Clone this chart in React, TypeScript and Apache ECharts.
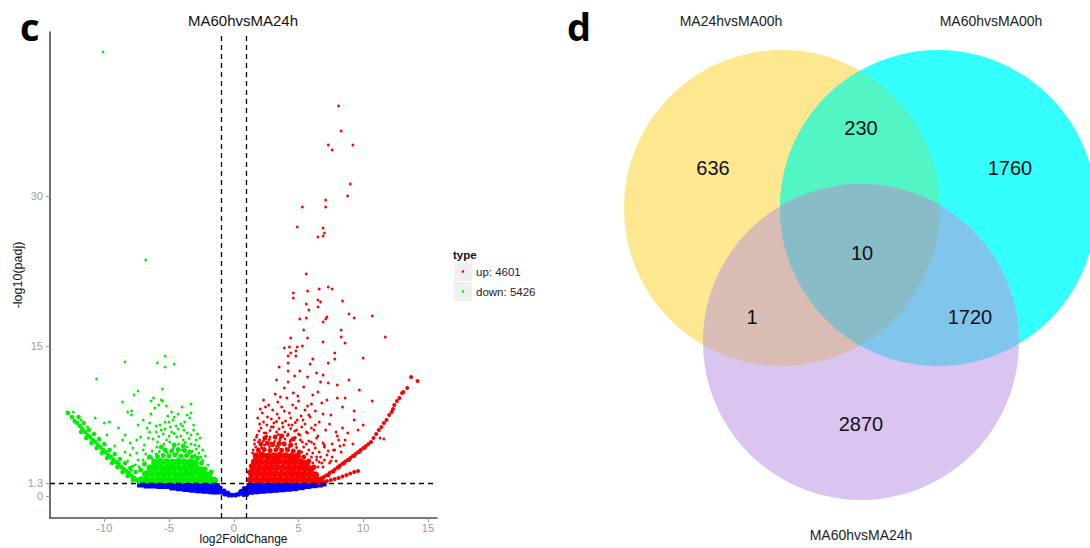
import React, { useEffect, useRef } from "react";
import * as echarts from "echarts";

// ---------- Volcano plot data (log2FoldChange, -log10(padj)) ----------
const xTickValues = [-10, -5, 0, 5, 10, 15];
const yTickValues = [0, 1.3, 15, 30];
const foldCutoffs = [-1, 1];
const padjCutoff = 1.3;
const legendTitle = "type";
const legendLabels = ["up: 4601", "down: 5426"];
const plotTitle = "MA60hvsMA24h";

// not significant (dense blue band below the cutoff)
const notSigBand: number[][] = [
  [-7.2, 1.15], [-6.7, 1.05], [-6.2, 1.05], [-5.7, 1.0], [-5.2, 1.0],
  [-4.7, 1.0], [-4.7, 0.85], [-4.2, 1.0], [-4.2, 0.78], [-3.7, 1.0], [-3.7, 0.7],
  [-3.2, 1.0], [-3.2, 0.63], [-2.7, 1.0], [-2.7, 0.57], [-2.2, 1.0], [-2.2, 0.52],
  [-1.7, 1.0], [-1.7, 0.47], [-1.35, 0.98], [-1.35, 0.45],
  [1.25, 1.0], [1.25, 0.42], [1.7, 1.0], [1.7, 0.47], [2.2, 1.0], [2.2, 0.52],
  [2.7, 1.0], [2.7, 0.57], [3.2, 1.0], [3.2, 0.62], [3.7, 1.0], [3.7, 0.67],
  [4.2, 1.0], [4.2, 0.72], [4.7, 1.0], [4.7, 0.78], [5.2, 1.0], [5.2, 0.88],
  [5.7, 1.0], [6.2, 1.08], [6.6, 1.15], [6.9, 1.25],
];
const notSigNotch: number[][] = [
  [-1.05, 0.8], [-1.0, 0.4], [-0.75, 0.5], [-0.7, 0.2], [-0.45, 0.28], [-0.4, 0.1],
  [-0.15, 0.08], [0.15, 0.1], [0.4, 0.2], [0.55, 0.45], [0.75, 0.15], [0.8, 0.75],
  [0.85, 0.4], [1.0, 0.15],
];

// down-regulated
const downCore: number[][] = [
  [-7.15, 1.6], [-6.7, 1.62], [-6.25, 1.58], [-5.8, 1.6], [-5.35, 1.63], [-4.9, 1.6], [-4.45, 1.57],
  [-4.0, 1.6], [-3.55, 1.62], [-3.1, 1.6], [-2.65, 1.58], [-2.2, 1.6], [-1.8, 1.6], [-1.5, 1.55],
  [-6.8, 2.2], [-6.35, 2.25], [-5.9, 2.18], [-5.45, 2.2], [-5.0, 2.24], [-4.55, 2.2], [-4.1, 2.17],
  [-3.65, 2.22], [-3.2, 2.2], [-2.75, 2.2], [-2.3, 2.15], [-1.95, 2.05],
  [-6.45, 2.8], [-6.0, 2.84], [-5.55, 2.78], [-5.1, 2.8], [-4.65, 2.83], [-4.2, 2.8], [-3.75, 2.77],
  [-3.3, 2.82], [-2.9, 2.75], [-2.5, 2.6],
  [-6.1, 3.35], [-5.65, 3.42], [-5.2, 3.4], [-4.75, 3.38], [-4.3, 3.43], [-3.85, 3.4], [-3.4, 3.36], [-3.0, 3.3],
];
const downCoreTop: number[][] = [
  [-5.9, 3.95], [-5.45, 4.05], [-5.0, 3.98], [-4.55, 4.1], [-4.1, 4.0], [-3.65, 4.05], [-3.2, 3.9],
  [-2.8, 3.8], [-5.3, 4.6], [-4.8, 4.5], [-4.3, 4.65], [-3.8, 4.55], [-3.4, 4.4], [-6.5, 3.9],
  [-6.9, 3.2], [-7.2, 2.6], [-4.6, 5.1], [-3.9, 5.0], [-5.6, 4.9], [-2.5, 3.3], [-2.2, 2.7], [-1.75, 2.4],
];
const downArm: number[][] = [
  [-12.8, 8.3], [-12.5, 7.9], [-12.3, 7.5], [-12.1, 7.3], [-11.9, 7.0], [-11.7, 6.7], [-11.5, 6.4],
  [-11.3, 6.1], [-11.1, 5.9], [-10.9, 5.6], [-10.7, 5.4], [-10.5, 5.1], [-10.3, 4.9], [-10.1, 4.6],
  [-9.9, 4.4], [-9.7, 4.1], [-9.5, 3.9], [-9.3, 3.6], [-9.1, 3.4], [-8.9, 3.2], [-8.7, 2.9],
  [-8.5, 2.7], [-8.3, 2.5], [-8.1, 2.3], [-7.9, 2.0], [-7.7, 1.8], [-7.5, 1.6], [-7.3, 1.4],
  [-11.8, 6.4], [-11.4, 5.8], [-11.0, 5.3], [-10.6, 4.8], [-10.2, 4.3], [-9.8, 3.8], [-9.4, 3.3],
  [-9.0, 2.9], [-8.6, 2.4], [-8.2, 2.0], [-7.8, 1.6],
  [-12.0, 7.9], [-11.6, 7.3], [-11.2, 6.6], [-10.8, 6.2], [-10.4, 5.7], [-10.0, 5.2], [-9.6, 4.6],
  [-9.2, 4.2], [-8.8, 3.7], [-8.4, 3.3], [-8.0, 2.8], [-7.6, 2.4],
];
const downScatter: number[][] = [
  [-10.1, 44.4], [-6.8, 23.6], [-8.4, 13.4], [-5.9, 13.3], [-5.3, 14.0], [-5.3, 12.9], [-4.6, 13.2],
  [-10.6, 11.7], [-7.4, 10.5], [-7.7, 10.1], [-5.5, 10.7], [-8.6, 9.4], [-5.5, 9.5], [-3.3, 9.2],
  [-12.9, 8.4], [-12.4, 8.4], [-10.7, 7.8], [-10.0, 7.3], [-9.6, 7.4], [-8.2, 8.4], [-7.9, 8.5],
  [-7.9, 8.1], [-6.2, 9.8], [-6.4, 9.5], [-6.1, 8.8], [-5.8, 9.1], [-5.6, 9.6], [-4.8, 8.4],
  [-4.6, 7.9], [-4.3, 8.2], [-3.8, 7.4], [-3.6, 8.1], [-5.0, 7.4], [-7.0, 7.6], [-7.4, 7.1],
  [-6.7, 6.8], [-8.9, 6.8], [-8.4, 6.1], [-8.6, 5.6], [-8.0, 5.3], [-7.5, 5.6], [-7.2, 5.9],
  [-6.6, 5.8], [-6.0, 6.4], [-5.3, 6.7], [-4.8, 6.4], [-4.3, 6.7], [-3.6, 6.3], [-3.1, 6.6],
  [-2.6, 5.8], [-2.7, 5.0], [-2.4, 4.6], [-2.2, 4.0], [-2.0, 3.1], [-8.4, 4.4], [-8.0, 4.1],
  [-7.4, 3.6], [-7.0, 4.6], [-7.3, 2.9], [-6.7, 2.4], [-6.6, 3.8], [-5.9, 5.4], [-5.2, 5.6],
  [-4.4, 5.9], [-3.9, 5.6], [-3.3, 5.2], [-2.9, 4.7], [-6.3, 4.5], [-6.9, 5.1], [-7.8, 4.8],
  [-7.6, 3.1], [-5.7, 7.1], [-4.1, 7.2], [-3.4, 7.8], [-6.5, 7.3], [-5.1, 8.0], [-2.9, 5.6],
  [-2.4, 3.6], [-7.9, 2.6], [-8.2, 3.5], [-9.2, 5.0], [-9.8, 6.1], [-11.3, 6.9], [-11.8, 7.6],
  [-6.3, 3.8], [-6.0, 4.2], [-5.75, 4.45], [-5.15, 4.35], [-4.7, 4.75], [-4.35, 4.3], [-4.0, 4.6],
  [-3.6, 4.9], [-3.2, 4.5], [-3.0, 4.1], [-2.7, 4.3], [-2.55, 3.9], [-5.95, 4.9], [-5.4, 5.2],
  [-4.95, 5.4], [-4.25, 5.2], [-3.75, 5.35], [-3.45, 5.75], [-3.0, 5.1], [-6.25, 5.7], [-5.8, 5.95],
  [-5.45, 6.2], [-5.0, 6.0], [-4.6, 6.25], [-4.1, 6.0], [-3.85, 6.6], [-3.3, 6.1], [-2.8, 6.2],
  [-6.5, 6.4], [-5.6, 6.6], [-4.9, 6.9], [-4.45, 7.0], [-3.95, 7.0], [-3.1, 7.1], [-6.0, 7.0],
  [-5.3, 7.4], [-4.7, 7.6], [-3.3, 8.3], [-6.4, 8.2], [-4.0, 8.9], [-5.2, 9.0], [-7.8, 3.0],
  [-7.0, 3.6], [-6.8, 4.2], [-7.5, 4.3],
];

// up-regulated
const upCore: number[][] = [
  [1.3, 1.6], [1.75, 1.62], [2.2, 1.58], [2.65, 1.6], [3.1, 1.63], [3.55, 1.6], [4.0, 1.57],
  [4.45, 1.6], [4.9, 1.62], [5.35, 1.6], [5.8, 1.58], [6.25, 1.6], [6.6, 1.5],
  [1.4, 2.2], [1.85, 2.24], [2.3, 2.18], [2.75, 2.2], [3.2, 2.23], [3.65, 2.2], [4.1, 2.17],
  [4.55, 2.22], [5.0, 2.2], [5.45, 2.18], [5.9, 2.2], [6.3, 2.1],
  [1.5, 2.8], [1.95, 2.83], [2.4, 2.78], [2.85, 2.8], [3.3, 2.84], [3.75, 2.8], [4.2, 2.77],
  [4.65, 2.82], [5.1, 2.8], [5.55, 2.76], [5.95, 2.7],
  [1.6, 3.4], [2.05, 3.43], [2.5, 3.38], [2.95, 3.4], [3.4, 3.44], [3.85, 3.4], [4.3, 3.37],
  [4.75, 3.42], [5.2, 3.35], [5.6, 3.25],
  [1.75, 4.0], [2.2, 4.04], [2.65, 3.98], [3.1, 4.0], [3.55, 4.05], [4.0, 4.0], [4.45, 3.96], [4.9, 3.95],
];
const upCoreTop: number[][] = [
  [1.9, 4.6], [2.35, 4.65], [2.8, 4.55], [3.25, 4.62], [3.7, 4.58], [4.15, 4.6], [4.6, 4.5],
  [5.05, 4.4], [5.4, 3.9], [5.8, 3.5], [6.2, 2.9], [2.1, 5.2],
  [2.6, 5.3], [3.0, 5.15], [3.5, 5.25], [3.9, 5.2], [4.4, 5.1], [2.4, 5.8], [3.2, 5.9],
  [3.7, 6.0], [4.6, 5.7], [1.2, 2.4], [1.35, 3.0],
];
const upArm: number[][] = [
  [6.2, 1.45], [6.4, 1.55], [6.6, 1.7], [6.8, 1.8], [7.0, 1.95], [7.2, 2.1], [7.4, 2.3], [7.6, 2.45],
  [7.8, 2.65], [8.0, 2.85], [8.2, 3.05], [8.4, 3.25], [8.6, 3.45], [8.8, 3.6], [9.0, 3.8], [9.2, 4.0],
  [9.4, 4.2], [9.6, 4.4], [9.8, 4.6], [10.0, 4.8], [10.2, 5.0], [10.4, 5.2], [10.6, 5.4],
  [6.5, 1.55], [6.9, 1.8], [7.3, 2.05], [7.7, 2.45], [8.1, 2.85], [8.5, 3.25], [8.9, 3.6],
  [9.3, 4.0], [9.7, 4.4], [10.1, 4.8],
  [6.6, 1.35], [6.9, 1.4], [7.2, 1.5], [7.5, 1.6], [7.8, 1.7], [8.1, 1.8], [8.4, 1.95], [8.7, 2.1],
  [9.0, 2.25], [9.3, 2.4], [9.6, 2.5],
  [10.8, 5.8], [11.0, 6.2], [11.2, 6.6], [11.4, 6.9], [11.6, 7.3], [11.8, 7.6], [12.0, 8.1],
  [12.2, 8.4], [12.3, 8.7], [12.4, 9.1], [12.6, 9.5], [12.8, 9.8], [13.0, 10.3], [13.1, 10.4],
  [13.4, 10.8], [13.7, 11.9], [14.2, 11.5],
];
const upScatter: number[][] = [
  [8.1, 39.0], [8.3, 36.5], [7.3, 35.1], [7.6, 34.6], [9.2, 35.1], [9.0, 31.2], [8.8, 30.0],
  [5.3, 28.9], [7.1, 29.6], [7.1, 28.9], [4.9, 26.9], [6.9, 26.8], [7.0, 26.3], [6.9, 26.0],
  [6.5, 25.9], [5.6, 22.2], [7.3, 20.9], [7.6, 20.7], [6.6, 20.7], [5.7, 20.5], [4.6, 20.3],
  [4.6, 19.8], [6.5, 19.6], [6.7, 19.4], [8.4, 19.5], [5.6, 19.2], [6.5, 18.9], [5.8, 18.6],
  [8.9, 18.2], [9.3, 17.8], [10.7, 18.0], [5.1, 17.7], [5.6, 17.8], [7.2, 17.9], [7.1, 17.7],
  [6.9, 17.4], [5.4, 16.6], [8.3, 16.6], [4.4, 15.8], [5.7, 15.8], [8.3, 15.9], [11.7, 15.9],
  [6.9, 15.4], [8.6, 15.3], [5.3, 15.0], [4.3, 14.9], [3.9, 14.8], [4.8, 14.5], [4.4, 14.3],
  [4.8, 14.0], [6.1, 13.7], [7.8, 14.3], [7.8, 13.7], [10.0, 13.8], [4.9, 14.9], [4.2, 14.0],
  [7.3, 13.3], [4.2, 13.3], [3.5, 12.9], [5.9, 13.2], [4.2, 12.5], [5.1, 12.5], [5.7, 11.9],
  [6.4, 12.3], [6.9, 12.1], [4.7, 12.0], [3.3, 11.6], [4.2, 11.4], [6.7, 11.4], [7.3, 11.3],
  [8.0, 11.1], [8.9, 11.6], [9.7, 10.6], [10.7, 9.5], [8.0, 9.8], [8.6, 9.8], [8.4, 8.9],
  [9.3, 8.5], [9.3, 7.6], [8.1, 5.6], [8.6, 5.6], [8.0, 6.0], [11.3, 5.8], [11.6, 5.7],
  [1.6, 5.2], [1.8, 6.1], [2.0, 5.6], [2.1, 6.8], [2.3, 7.4], [2.2, 8.3], [2.5, 6.3], [2.6, 7.9],
  [2.7, 9.1], [2.8, 5.9], [2.9, 6.9], [3.0, 8.6], [3.1, 7.3], [3.2, 10.2], [3.3, 6.4], [3.4, 9.4],
  [3.5, 7.8], [3.6, 5.8], [3.7, 8.9], [3.8, 6.9], [3.9, 10.8], [4.0, 7.5], [4.1, 9.8], [4.2, 6.2],
  [4.3, 8.3], [4.4, 5.6], [4.5, 7.1], [4.6, 10.3], [4.7, 6.5], [4.8, 8.8], [4.9, 7.6], [5.0, 9.5],
  [5.1, 6.1], [5.2, 8.0], [5.3, 5.4], [5.4, 10.9], [5.5, 7.2], [5.6, 6.4], [5.7, 9.0], [5.8, 5.5],
  [5.9, 7.9], [6.0, 6.8], [6.1, 10.1], [6.2, 5.2], [6.3, 8.5], [6.5, 6.0], [6.6, 7.4], [6.8, 9.3],
  [7.0, 5.1], [7.1, 6.6], [7.5, 8.1], [7.8, 4.6], [1.5, 4.6], [1.7, 4.9], [2.4, 5.1], [2.9, 5.3],
  [3.3, 5.0], [3.8, 5.3], [4.3, 4.9], [4.8, 5.2], [5.4, 4.9], [5.8, 4.6], [6.1, 4.3], [6.4, 3.9],
  [6.6, 3.4], [6.9, 2.9], [7.4, 3.3], [7.6, 3.9], [7.9, 3.5], [8.3, 4.4], [8.5, 5.1],
  [8.8, 6.3], [9.2, 5.2], [9.6, 6.6], [10.0, 7.1], [2.0, 4.4], [6.4, 3.6], [6.8, 3.3],
  [7.5, 3.5], [6.6, 4.4], [7.2, 4.1], [7.7, 4.6], [6.9, 5.3],
  [1.45, 4.3], [2.75, 4.95], [3.45, 4.85], [4.05, 4.75], [4.85, 4.85], [5.25, 4.4], [5.65, 4.2],
  [6.0, 3.9], [2.15, 4.85], [1.6, 5.6], [1.9, 5.4], [2.3, 5.5], [2.75, 5.65], [3.15, 5.45],
  [3.55, 5.6], [3.95, 5.7], [4.35, 5.45], [4.75, 5.85], [5.15, 5.6], [5.6, 5.2], [6.0, 5.4],
  [6.3, 4.8], [1.75, 5.9], [2.55, 6.0], [3.45, 6.15], [4.15, 6.05], [5.0, 6.2], [1.95, 6.5],
  [2.35, 6.3], [2.8, 6.55], [3.05, 6.9], [3.5, 6.7], [3.95, 6.4], [4.4, 6.75], [4.85, 6.6],
  [5.25, 6.9], [5.7, 6.3], [6.2, 6.6], [2.0, 7.2], [2.55, 7.1], [3.3, 7.45], [3.75, 7.3],
  [4.25, 7.1], [4.75, 7.35], [5.35, 7.6], [6.3, 7.1], [1.85, 7.8], [2.9, 7.7], [4.4, 7.8],
  [5.8, 8.1], [2.05, 8.7], [2.45, 8.9], [3.35, 8.2], [3.9, 8.5], [4.55, 9.1], [5.5, 8.6],
  [6.0, 9.2], [6.9, 8.2], [2.3, 9.6], [3.6, 9.9], [4.95, 10.0], [6.5, 10.4], [7.2, 9.6],
  [6.1, 3.3], [6.5, 2.9], [6.7, 3.9], [7.0, 3.6], [7.3, 4.5], [7.6, 5.2], [7.0, 4.9], [6.4, 5.8],
  [8.2, 5.0], [7.9, 6.4], [8.4, 6.8], [7.4, 7.2],
];

// ---------- Venn diagram data ----------
const vennSetNames = ["MA24hvsMA00h", "MA60hvsMA00h", "MA60hvsMA24h"];
const vennRegionKeys = ["A", "AB", "B", "ABC", "AC", "BC", "C"];
const vennRegionCounts = [636, 230, 1760, 10, 1, 1720, 2870];

const COLORS = { up: "#ff0000", down: "#00ee00", ns: "#0000ff" };
const FONT = "'Liberation Sans', Arial, Helvetica, sans-serif";

type Circ = { cx: number; cy: number; r: number };

function intersection(cs: Circ[]): number[][] {
  const pts: number[][] = [];
  cs.forEach((c, i) => {
    const n = 720;
    for (let k = 0; k < n; k++) {
      const a = (k / n) * Math.PI * 2;
      const p = [c.cx + c.r * Math.cos(a), c.cy + c.r * Math.sin(a)];
      const ok = cs.every((o, j) => j === i || Math.hypot(p[0] - o.cx, p[1] - o.cy) <= o.r + 0.01);
      if (ok) pts.push(p);
    }
  });
  const mx = pts.reduce((s, p) => s + p[0], 0) / pts.length;
  const my = pts.reduce((s, p) => s + p[1], 0) / pts.length;
  pts.sort((p, q) => Math.atan2(p[1] - my, p[0] - mx) - Math.atan2(q[1] - my, q[0] - mx));
  return pts;
}

export default function App() {
  const ref = useRef<HTMLDivElement>(null);

  useEffect(() => {
    if (!ref.current) return;
    const chart = echarts.init(ref.current, null, { renderer: "svg" });

    // Venn layout
    const cA: Circ = { cx: 782, cy: 208, r: 158 };
    const cB: Circ = { cx: 938, cy: 208, r: 158 };
    const cC: Circ = { cx: 861, cy: 342, r: 158 };
    const regionPos: Record<string, number[]> = {
      A: [713, 168], AB: [861, 128], B: [1010, 168], ABC: [862, 253],
      AC: [752, 317], BC: [970, 317], C: [861, 424],
    };
    const setLabelPos = [[731, 21], [991, 21], [861, 535]];

    const venn: any[] = [
      { type: "circle", shape: cA, style: { fill: "#fde78f" }, silent: true },
      { type: "circle", shape: cB, style: { fill: "#33ffff" }, silent: true },
      { type: "polygon", shape: { points: intersection([cA, cB]) }, style: { fill: "#52f5c4" }, silent: true },
      { type: "circle", shape: cC, style: { fill: "#d9c5f0" }, silent: true },
      { type: "polygon", shape: { points: intersection([cA, cC]) }, style: { fill: "#d9bcb4" }, silent: true },
      { type: "polygon", shape: { points: intersection([cB, cC]) }, style: { fill: "#80c5ec" }, silent: true },
      { type: "polygon", shape: { points: intersection([cA, cB, cC]) }, style: { fill: "#88bdc8" }, silent: true },
    ];
    vennRegionKeys.forEach((k, i) => {
      venn.push({
        type: "text", x: regionPos[k][0], y: regionPos[k][1], silent: true,
        style: { text: String(vennRegionCounts[i]), fill: "#111", fontSize: 20, fontFamily: FONT, textAlign: "center", textVerticalAlign: "middle" },
      });
    });
    vennSetNames.forEach((n, i) => {
      venn.push({
        type: "text", x: setLabelPos[i][0], y: setLabelPos[i][1], silent: true,
        style: { text: n, fill: "#222", fontSize: 14, fontFamily: FONT, textAlign: "center", textVerticalAlign: "middle" },
      });
    });

    const legend: any[] = [
      { type: "text", x: 453, y: 255, silent: true, style: { text: legendTitle, fill: "#111", fontSize: 11.5, fontWeight: "bold", fontFamily: FONT, textVerticalAlign: "middle" } },
      { type: "rect", shape: { x: 454, y: 262, width: 18, height: 19 }, style: { fill: "#f0f0f0" }, silent: true },
      { type: "rect", shape: { x: 454, y: 282, width: 18, height: 19 }, style: { fill: "#f0f0f0" }, silent: true },
      { type: "circle", shape: { cx: 463, cy: 271.5, r: 1.3 }, style: { fill: COLORS.up }, silent: true },
      { type: "circle", shape: { cx: 463, cy: 291.5, r: 1.3 }, style: { fill: COLORS.down }, silent: true },
      { type: "text", x: 476, y: 272, silent: true, style: { text: legendLabels[0], fill: "#222", fontSize: 11.5, fontFamily: FONT, textVerticalAlign: "middle" } },
      { type: "text", x: 476, y: 292, silent: true, style: { text: legendLabels[1], fill: "#222", fontSize: 11.5, fontFamily: FONT, textVerticalAlign: "middle" } },
    ];

    const labels: any[] = [
      { type: "text", x: 243, y: 20, silent: true, style: { text: plotTitle, fill: "#111", fontSize: 15, fontFamily: FONT, textAlign: "center", textVerticalAlign: "middle" } },
      { type: "text", x: 20, y: 45, silent: true, style: { text: "c", fill: "#000", fontSize: 38, fontWeight: "bold", fontFamily: "'Open Sans', 'DejaVu Sans', sans-serif", textVerticalAlign: "bottom" } },
      { type: "text", x: 567, y: 45, silent: true, style: { text: "d", fill: "#000", fontSize: 38, fontWeight: "bold", fontFamily: "'Open Sans', 'DejaVu Sans', sans-serif", textVerticalAlign: "bottom" } },
    ];

    const scatter = (data: number[][], color: string, size: any, symbol = "circle") => ({
      type: "scatter",
      data,
      symbol,
      symbolSize: size,
      itemStyle: { color, opacity: 1 },
      silent: true,
      emphasis: { disabled: true },
    });

    const option: any = {
      animation: false,
      backgroundColor: "#ffffff",
      grid: { left: 50, right: 653, top: 32, bottom: 30, containLabel: false, outerBoundsMode: "none" },
      xAxis: {
        type: "value",
        min: -14.2,
        max: 15.7,
        name: "log2FoldChange",
        nameLocation: "middle",
        nameGap: 15,
        nameMoveOverlap: false,
        nameTextStyle: { color: "#111", fontSize: 12, fontFamily: FONT },
        axisLine: { show: true, onZero: false, lineStyle: { color: "#4d4d4d", width: 1.6 } },
        axisTick: { show: true, customValues: xTickValues, length: 4, lineStyle: { color: "#999" } },
        axisLabel: { customValues: xTickValues, color: "#9e9e9e", fontSize: 11, fontFamily: FONT, margin: 4 },
        splitLine: { show: false },
      },
      yAxis: {
        type: "value",
        min: -2.2,
        max: 46.4,
        name: "-log10(padj)",
        nameLocation: "middle",
        nameGap: 26,
        nameRotate: 90,
        nameMoveOverlap: false,
        nameTextStyle: { color: "#111", fontSize: 12.5, fontFamily: FONT },
        axisLine: { show: true, onZero: false, lineStyle: { color: "#4d4d4d", width: 1.6 } },
        axisTick: { show: true, customValues: yTickValues, length: 4, lineStyle: { color: "#999" } },
        axisLabel: { customValues: yTickValues, color: "#9e9e9e", fontSize: 11, fontFamily: FONT, margin: 7 },
        splitLine: { show: false },
      },
      graphic: { elements: [...venn, ...legend, ...labels] },
      series: [
        scatter(notSigBand, COLORS.ns, [7, 6], "rect"),
        scatter(notSigNotch, COLORS.ns, 5),
        scatter(downCore, COLORS.down, 7.5),
        scatter(downCoreTop, COLORS.down, 5),
        scatter(downArm, COLORS.down, 4.5),
        scatter(downScatter, COLORS.down, 2.8),
        scatter(upCore, COLORS.up, 7.5),
        scatter(upCoreTop, COLORS.up, 5),
        scatter(upArm, COLORS.up, 4),
        {
          ...scatter(upScatter, COLORS.up, 2.8),
          markLine: {
            silent: true,
            symbol: "none",
            label: { show: false },
            lineStyle: { color: "#000", type: [5, 4], width: 1.3 },
            emphasis: { disabled: true },
            data: [{ xAxis: foldCutoffs[0] }, { xAxis: foldCutoffs[1] }, { yAxis: padjCutoff }],
          },
        },
      ],
    };

    chart.setOption(option);
    return () => chart.dispose();
  }, []);

  return (
    <div
      ref={ref}
      style={{ position: "fixed", left: 0, top: 0, width: 1090, height: 548, background: "#fff" }}
    />
  );
}
